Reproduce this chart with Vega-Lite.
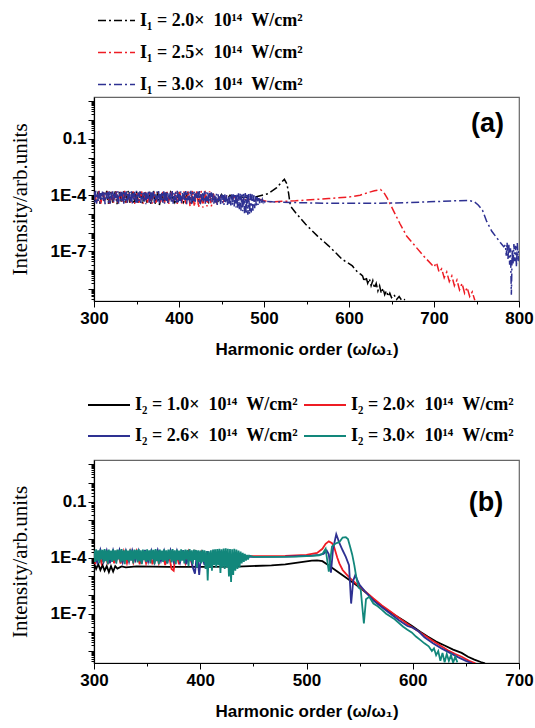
{
"$schema": "https://vega.github.io/schema/vega-lite/v6.json",
"background": "white",
"padding": {"left": 8, "top": 0, "right": 0, "bottom": 4},
"datasets": {
"a": [
{"s":"2.0","h":300,"v":1.4e-4},{"s":"2.0","h":302,"v":4e-5},{"s":"2.0","h":305,"v":1.6e-4},{"s":"2.0","h":307,"v":3.5e-5},{"s":"2.0","h":310,"v":1.5e-4},{"s":"2.0","h":312,"v":4.5e-5},{"s":"2.0","h":315,"v":1.7e-4},{"s":"2.0","h":317,"v":3.5e-5},{"s":"2.0","h":320,"v":1.5e-4},{"s":"2.0","h":322,"v":4e-5},{"s":"2.0","h":325,"v":1.6e-4},{"s":"2.0","h":327,"v":3.3e-5},{"s":"2.0","h":330,"v":1.5e-4},{"s":"2.0","h":332,"v":4.5e-5},{"s":"2.0","h":335,"v":1.6e-4},{"s":"2.0","h":337,"v":3.5e-5},{"s":"2.0","h":340,"v":1.7e-4},{"s":"2.0","h":342,"v":4e-5},{"s":"2.0","h":345,"v":1.5e-4},{"s":"2.0","h":347,"v":3.5e-5},{"s":"2.0","h":350,"v":1.6e-4},{"s":"2.0","h":352,"v":4e-5},{"s":"2.0","h":355,"v":1.5e-4},{"s":"2.0","h":357,"v":3.4e-5},{"s":"2.0","h":360,"v":1.6e-4},{"s":"2.0","h":362,"v":4e-5},{"s":"2.0","h":365,"v":1.5e-4},{"s":"2.0","h":367,"v":3.3e-5},{"s":"2.0","h":370,"v":1.7e-4},{"s":"2.0","h":372,"v":3.5e-5},{"s":"2.0","h":375,"v":1.5e-4},{"s":"2.0","h":377,"v":3e-5},{"s":"2.0","h":380,"v":1.5e-4},{"s":"2.0","h":382,"v":4e-5},{"s":"2.0","h":385,"v":1.4e-4},{"s":"2.0","h":387,"v":3.5e-5},{"s":"2.0","h":390,"v":1.4e-4},{"s":"2.0","h":395,"v":4e-5},{"s":"2.0","h":400,"v":1.3e-4},{"s":"2.0","h":405,"v":4e-5},{"s":"2.0","h":410,"v":1.3e-4},{"s":"2.0","h":415,"v":4e-5},{"s":"2.0","h":420,"v":1.2e-4},{"s":"2.0","h":425,"v":4e-5},{"s":"2.0","h":430,"v":1.2e-4},{"s":"2.0","h":435,"v":4e-5},{"s":"2.0","h":440,"v":1.1e-4},{"s":"2.0","h":445,"v":4e-5},{"s":"2.0","h":450,"v":1.1e-4},{"s":"2.0","h":455,"v":5e-5},{"s":"2.0","h":460,"v":1e-4},{"s":"2.0","h":465,"v":5e-5},{"s":"2.0","h":470,"v":8e-5},{"s":"2.0","h":480,"v":7.5e-5},{"s":"2.0","h":490,"v":8e-5},{"s":"2.0","h":505,"v":1.2e-4},{"s":"2.0","h":515,"v":2.5e-4},{"s":"2.0","h":520,"v":4.5e-4},{"s":"2.0","h":524,"v":7e-4},{"s":"2.0","h":527,"v":4e-4},{"s":"2.0","h":529,"v":1.2e-4},{"s":"2.0","h":531,"v":2.7e-5},{"s":"2.0","h":537,"v":1.2e-5},{"s":"2.0","h":549,"v":2.8e-6},{"s":"2.0","h":563,"v":6.6e-7},{"s":"2.0","h":576,"v":2e-7},{"s":"2.0","h":585,"v":8e-8},{"s":"2.0","h":592,"v":3.8e-8},{"s":"2.0","h":598,"v":2.6e-8},{"s":"2.0","h":604,"v":1.7e-8},{"s":"2.0","h":610,"v":8e-9},{"s":"2.0","h":614,"v":6e-9},{"s":"2.0","h":616,"v":5e-9},{"s":"2.0","h":618,"v":2.5e-9},{"s":"2.0","h":620,"v":4.5e-9},{"s":"2.0","h":622,"v":2e-9},{"s":"2.0","h":624,"v":3.5e-9},{"s":"2.0","h":626,"v":1.5e-9},{"s":"2.0","h":628,"v":2.8e-9},{"s":"2.0","h":630,"v":1.1e-9},{"s":"2.0","h":632,"v":2e-9},{"s":"2.0","h":634,"v":8e-10},{"s":"2.0","h":636,"v":1.5e-9},{"s":"2.0","h":638,"v":6e-10},{"s":"2.0","h":640,"v":1.1e-9},{"s":"2.0","h":642,"v":5e-10},{"s":"2.0","h":644,"v":8e-10},{"s":"2.0","h":646,"v":4e-10},{"s":"2.0","h":648,"v":6e-10},{"s":"2.0","h":650,"v":3.5e-10},{"s":"2.0","h":653,"v":5e-10},{"s":"2.0","h":656,"v":2.8e-10},{"s":"2.0","h":659,"v":4e-10},{"s":"2.0","h":662,"v":2.5e-10},{"s":"2.0","h":666,"v":2.8e-10},
{"s":"2.5","h":301,"v":1.5e-4},{"s":"2.5","h":303,"v":4e-5},{"s":"2.5","h":306,"v":1.7e-4},{"s":"2.5","h":308,"v":3.6e-5},{"s":"2.5","h":311,"v":1.5e-4},{"s":"2.5","h":313,"v":4.5e-5},{"s":"2.5","h":316,"v":1.6e-4},{"s":"2.5","h":318,"v":3.5e-5},{"s":"2.5","h":321,"v":1.5e-4},{"s":"2.5","h":323,"v":4e-5},{"s":"2.5","h":326,"v":1.6e-4},{"s":"2.5","h":328,"v":3.6e-5},{"s":"2.5","h":331,"v":1.5e-4},{"s":"2.5","h":333,"v":4.5e-5},{"s":"2.5","h":336,"v":1.7e-4},{"s":"2.5","h":338,"v":3.5e-5},{"s":"2.5","h":341,"v":1.5e-4},{"s":"2.5","h":343,"v":4e-5},{"s":"2.5","h":346,"v":1.6e-4},{"s":"2.5","h":348,"v":3.4e-5},{"s":"2.5","h":351,"v":1.5e-4},{"s":"2.5","h":353,"v":4e-5},{"s":"2.5","h":356,"v":1.6e-4},{"s":"2.5","h":358,"v":3.6e-5},{"s":"2.5","h":361,"v":1.5e-4},{"s":"2.5","h":363,"v":4e-5},{"s":"2.5","h":366,"v":1.6e-4},{"s":"2.5","h":368,"v":3.5e-5},{"s":"2.5","h":371,"v":1.5e-4},{"s":"2.5","h":373,"v":4e-5},{"s":"2.5","h":376,"v":1.5e-4},{"s":"2.5","h":378,"v":3.5e-5},{"s":"2.5","h":381,"v":1.5e-4},{"s":"2.5","h":383,"v":4e-5},{"s":"2.5","h":386,"v":1.5e-4},{"s":"2.5","h":388,"v":3.5e-5},{"s":"2.5","h":391,"v":1.5e-4},{"s":"2.5","h":393,"v":3.8e-5},{"s":"2.5","h":396,"v":1.6e-4},{"s":"2.5","h":398,"v":3.4e-5},{"s":"2.5","h":401,"v":1.5e-4},{"s":"2.5","h":403,"v":3.5e-5},{"s":"2.5","h":406,"v":1.6e-4},{"s":"2.5","h":408,"v":3e-5},{"s":"2.5","h":411,"v":1.7e-4},{"s":"2.5","h":413,"v":2.5e-5},{"s":"2.5","h":416,"v":1.8e-4},{"s":"2.5","h":418,"v":2.5e-5},{"s":"2.5","h":421,"v":1.8e-4},{"s":"2.5","h":423,"v":2.2e-5},{"s":"2.5","h":426,"v":1.7e-4},{"s":"2.5","h":428,"v":2.2e-5},{"s":"2.5","h":431,"v":1.7e-4},{"s":"2.5","h":433,"v":2.5e-5},{"s":"2.5","h":436,"v":1.6e-4},{"s":"2.5","h":438,"v":2.5e-5},{"s":"2.5","h":441,"v":1.2e-4},{"s":"2.5","h":444,"v":4e-5},{"s":"2.5","h":448,"v":1e-4},{"s":"2.5","h":452,"v":4.5e-5},{"s":"2.5","h":456,"v":9e-5},{"s":"2.5","h":460,"v":5e-5},{"s":"2.5","h":465,"v":8e-5},{"s":"2.5","h":470,"v":5e-5},{"s":"2.5","h":475,"v":7e-5},{"s":"2.5","h":480,"v":5e-5},{"s":"2.5","h":485,"v":6.5e-5},{"s":"2.5","h":490,"v":5e-5},{"s":"2.5","h":495,"v":6e-5},{"s":"2.5","h":500,"v":5e-5},{"s":"2.5","h":508,"v":4.4e-5},{"s":"2.5","h":537,"v":5e-5},{"s":"2.5","h":576,"v":6.6e-5},{"s":"2.5","h":600,"v":8e-5},{"s":"2.5","h":613,"v":1e-4},{"s":"2.5","h":623,"v":1.4e-4},{"s":"2.5","h":630,"v":1.7e-4},{"s":"2.5","h":637,"v":2e-4},{"s":"2.5","h":641,"v":1.4e-4},{"s":"2.5","h":645,"v":7e-5},{"s":"2.5","h":649,"v":3e-5},{"s":"2.5","h":653,"v":1.3e-5},{"s":"2.5","h":660,"v":3e-6},{"s":"2.5","h":668,"v":6.5e-7},{"s":"2.5","h":678,"v":1.9e-7},{"s":"2.5","h":689,"v":5e-8},{"s":"2.5","h":700,"v":1.5e-8},{"s":"2.5","h":703,"v":2.5e-8},{"s":"2.5","h":706,"v":8e-9},{"s":"2.5","h":709,"v":1.2e-8},{"s":"2.5","h":712,"v":4e-9},{"s":"2.5","h":715,"v":8e-9},{"s":"2.5","h":718,"v":2.5e-9},{"s":"2.5","h":721,"v":5e-9},{"s":"2.5","h":724,"v":1.5e-9},{"s":"2.5","h":727,"v":3e-9},{"s":"2.5","h":730,"v":9e-10},{"s":"2.5","h":733,"v":2e-9},{"s":"2.5","h":736,"v":6e-10},{"s":"2.5","h":739,"v":1.2e-9},{"s":"2.5","h":742,"v":4e-10},{"s":"2.5","h":745,"v":7e-10},{"s":"2.5","h":748,"v":2.5e-10},
{"s":"3.0","h":300,"v":1.5e-4},{"s":"3.0","h":301,"v":4e-5},{"s":"3.0","h":302,"v":1.7e-4},{"s":"3.0","h":303,"v":3.5e-5},{"s":"3.0","h":304,"v":1.4e-4},{"s":"3.0","h":305,"v":5e-5},{"s":"3.0","h":306,"v":1.6e-4},{"s":"3.0","h":307,"v":3.8e-5},{"s":"3.0","h":308,"v":1.3e-4},{"s":"3.0","h":309,"v":6e-5},{"s":"3.0","h":310,"v":1.55e-4},{"s":"3.0","h":311,"v":4.5e-5},{"s":"3.0","h":312,"v":1.65e-4},{"s":"3.0","h":313,"v":3.3e-5},{"s":"3.0","h":314,"v":1.35e-4},{"s":"3.0","h":315,"v":5.5e-5},
{"s":"3.0","h":316,"v":1.5e-4},{"s":"3.0","h":317,"v":4e-5},{"s":"3.0","h":318,"v":1.7e-4},{"s":"3.0","h":319,"v":3.5e-5},{"s":"3.0","h":320,"v":1.4e-4},{"s":"3.0","h":321,"v":5e-5},{"s":"3.0","h":322,"v":1.6e-4},{"s":"3.0","h":323,"v":3.8e-5},{"s":"3.0","h":324,"v":1.3e-4},{"s":"3.0","h":325,"v":6e-5},{"s":"3.0","h":326,"v":1.55e-4},{"s":"3.0","h":327,"v":4.5e-5},{"s":"3.0","h":328,"v":1.65e-4},{"s":"3.0","h":329,"v":3.3e-5},{"s":"3.0","h":330,"v":1.35e-4},{"s":"3.0","h":331,"v":5.5e-5},
{"s":"3.0","h":332,"v":1.5e-4},{"s":"3.0","h":333,"v":4e-5},{"s":"3.0","h":334,"v":1.7e-4},{"s":"3.0","h":335,"v":3.5e-5},{"s":"3.0","h":336,"v":1.4e-4},{"s":"3.0","h":337,"v":5e-5},{"s":"3.0","h":338,"v":1.6e-4},{"s":"3.0","h":339,"v":3.8e-5},{"s":"3.0","h":340,"v":1.3e-4},{"s":"3.0","h":341,"v":6e-5},{"s":"3.0","h":342,"v":1.55e-4},{"s":"3.0","h":343,"v":4.5e-5},{"s":"3.0","h":344,"v":1.65e-4},{"s":"3.0","h":345,"v":3.3e-5},{"s":"3.0","h":346,"v":1.35e-4},{"s":"3.0","h":347,"v":5.5e-5},
{"s":"3.0","h":348,"v":1.5e-4},{"s":"3.0","h":349,"v":4e-5},{"s":"3.0","h":350,"v":1.7e-4},{"s":"3.0","h":351,"v":3.5e-5},{"s":"3.0","h":352,"v":1.4e-4},{"s":"3.0","h":353,"v":5e-5},{"s":"3.0","h":354,"v":1.6e-4},{"s":"3.0","h":355,"v":3.8e-5},{"s":"3.0","h":356,"v":1.3e-4},{"s":"3.0","h":357,"v":6e-5},{"s":"3.0","h":358,"v":1.55e-4},{"s":"3.0","h":359,"v":4.5e-5},{"s":"3.0","h":360,"v":1.65e-4},{"s":"3.0","h":361,"v":3.3e-5},{"s":"3.0","h":362,"v":1.35e-4},{"s":"3.0","h":363,"v":5.5e-5},
{"s":"3.0","h":364,"v":1.5e-4},{"s":"3.0","h":365,"v":4e-5},{"s":"3.0","h":366,"v":1.7e-4},{"s":"3.0","h":367,"v":3.5e-5},{"s":"3.0","h":368,"v":1.4e-4},{"s":"3.0","h":369,"v":5e-5},{"s":"3.0","h":370,"v":1.6e-4},{"s":"3.0","h":371,"v":3.8e-5},{"s":"3.0","h":372,"v":1.3e-4},{"s":"3.0","h":373,"v":6e-5},{"s":"3.0","h":374,"v":1.55e-4},{"s":"3.0","h":375,"v":4.5e-5},{"s":"3.0","h":376,"v":1.65e-4},{"s":"3.0","h":377,"v":3.3e-5},{"s":"3.0","h":378,"v":1.35e-4},{"s":"3.0","h":379,"v":5.5e-5},
{"s":"3.0","h":380,"v":1.5e-4},{"s":"3.0","h":381,"v":4e-5},{"s":"3.0","h":382,"v":1.7e-4},{"s":"3.0","h":383,"v":3.5e-5},{"s":"3.0","h":384,"v":1.4e-4},{"s":"3.0","h":385,"v":5e-5},{"s":"3.0","h":386,"v":1.6e-4},{"s":"3.0","h":387,"v":3.8e-5},{"s":"3.0","h":388,"v":1.3e-4},{"s":"3.0","h":389,"v":6e-5},{"s":"3.0","h":390,"v":1.55e-4},{"s":"3.0","h":391,"v":4.5e-5},{"s":"3.0","h":392,"v":1.65e-4},{"s":"3.0","h":393,"v":3.3e-5},{"s":"3.0","h":394,"v":1.35e-4},{"s":"3.0","h":395,"v":5.5e-5},
{"s":"3.0","h":396,"v":1.5e-4},{"s":"3.0","h":397,"v":4e-5},{"s":"3.0","h":398,"v":1.7e-4},{"s":"3.0","h":399,"v":3.5e-5},{"s":"3.0","h":400,"v":1.4e-4},{"s":"3.0","h":401,"v":5e-5},{"s":"3.0","h":402,"v":1.6e-4},{"s":"3.0","h":403,"v":3.8e-5},{"s":"3.0","h":404,"v":1.3e-4},{"s":"3.0","h":405,"v":6e-5},{"s":"3.0","h":406,"v":1.55e-4},{"s":"3.0","h":407,"v":4.5e-5},{"s":"3.0","h":408,"v":1.65e-4},{"s":"3.0","h":409,"v":3.3e-5},{"s":"3.0","h":410,"v":1.35e-4},{"s":"3.0","h":411,"v":5.5e-5},
{"s":"3.0","h":412,"v":1.5e-4},{"s":"3.0","h":413,"v":4e-5},{"s":"3.0","h":414,"v":1.7e-4},{"s":"3.0","h":415,"v":3.5e-5},{"s":"3.0","h":416,"v":1.4e-4},{"s":"3.0","h":417,"v":5e-5},{"s":"3.0","h":418,"v":1.6e-4},{"s":"3.0","h":419,"v":3.8e-5},{"s":"3.0","h":420,"v":1.3e-4},{"s":"3.0","h":421,"v":6e-5},{"s":"3.0","h":422,"v":1.55e-4},{"s":"3.0","h":423,"v":4.5e-5},{"s":"3.0","h":424,"v":1.65e-4},{"s":"3.0","h":425,"v":3.3e-5},{"s":"3.0","h":426,"v":1.35e-4},{"s":"3.0","h":427,"v":5.5e-5},
{"s":"3.0","h":428,"v":1.5e-4},{"s":"3.0","h":429,"v":4e-5},{"s":"3.0","h":430,"v":1.6e-4},{"s":"3.0","h":431,"v":3.5e-5},{"s":"3.0","h":432,"v":1.4e-4},{"s":"3.0","h":433,"v":5e-5},{"s":"3.0","h":434,"v":1.5e-4},{"s":"3.0","h":435,"v":3.8e-5},{"s":"3.0","h":436,"v":1.3e-4},{"s":"3.0","h":437,"v":5e-5},{"s":"3.0","h":438,"v":1.4e-4},{"s":"3.0","h":439,"v":4e-5},
{"s":"3.0","h":440,"v":1.2e-4},{"s":"3.0","h":441,"v":3.5e-5},{"s":"3.0","h":442,"v":1.1e-4},{"s":"3.0","h":443,"v":4e-5},{"s":"3.0","h":444,"v":1.2e-4},{"s":"3.0","h":445,"v":3e-5},{"s":"3.0","h":446,"v":1.1e-4},{"s":"3.0","h":447,"v":4.5e-5},{"s":"3.0","h":448,"v":1e-4},{"s":"3.0","h":449,"v":3.2e-5},{"s":"3.0","h":450,"v":1.1e-4},{"s":"3.0","h":451,"v":3.8e-5},{"s":"3.0","h":452,"v":1e-4},{"s":"3.0","h":453,"v":3e-5},{"s":"3.0","h":454,"v":1.1e-4},{"s":"3.0","h":455,"v":4e-5},{"s":"3.0","h":456,"v":1e-4},{"s":"3.0","h":457,"v":3e-5},{"s":"3.0","h":458,"v":9e-5},{"s":"3.0","h":459,"v":3.5e-5},{"s":"3.0","h":460,"v":1e-4},{"s":"3.0","h":461,"v":2.8e-5},{"s":"3.0","h":462,"v":1.1e-4},{"s":"3.0","h":463,"v":3e-5},{"s":"3.0","h":464,"v":1.1e-4},{"s":"3.0","h":465,"v":2.5e-5},{"s":"3.0","h":466,"v":1.2e-4},{"s":"3.0","h":467,"v":2.2e-5},{"s":"3.0","h":468,"v":1.2e-4},{"s":"3.0","h":469,"v":2e-5},{"s":"3.0","h":470,"v":1.25e-4},{"s":"3.0","h":471,"v":1.8e-5},{"s":"3.0","h":472,"v":1.2e-4},{"s":"3.0","h":473,"v":1.5e-5},{"s":"3.0","h":474,"v":1.3e-4},{"s":"3.0","h":475,"v":1.4e-5},{"s":"3.0","h":476,"v":1.2e-4},{"s":"3.0","h":477,"v":1.1e-5},{"s":"3.0","h":478,"v":1.3e-4},{"s":"3.0","h":479,"v":1e-5},{"s":"3.0","h":480,"v":1.2e-4},{"s":"3.0","h":481,"v":9e-6},{"s":"3.0","h":482,"v":1.25e-4},{"s":"3.0","h":483,"v":1e-5},{"s":"3.0","h":484,"v":1.2e-4},{"s":"3.0","h":485,"v":1.2e-5},{"s":"3.0","h":486,"v":1.1e-4},{"s":"3.0","h":487,"v":1.5e-5},{"s":"3.0","h":488,"v":1e-4},{"s":"3.0","h":489,"v":2e-5},{"s":"3.0","h":490,"v":9e-5},{"s":"3.0","h":491,"v":2.5e-5},{"s":"3.0","h":492,"v":8e-5},{"s":"3.0","h":493,"v":3e-5},{"s":"3.0","h":494,"v":7e-5},{"s":"3.0","h":495,"v":3.5e-5},{"s":"3.0","h":496,"v":6.5e-5},{"s":"3.0","h":497,"v":4e-5},{"s":"3.0","h":498,"v":6e-5},{"s":"3.0","h":499,"v":4.2e-5},{"s":"3.0","h":500,"v":5.5e-5},{"s":"3.0","h":501,"v":4.3e-5},{"s":"3.0","h":502,"v":5e-5},{"s":"3.0","h":503,"v":4.4e-5},{"s":"3.0","h":504,"v":4.6e-5},
{"s":"3.0","h":510,"v":4.4e-5},{"s":"3.0","h":540,"v":4e-5},{"s":"3.0","h":576,"v":3.7e-5},{"s":"3.0","h":615,"v":3.7e-5},{"s":"3.0","h":655,"v":3.8e-5},{"s":"3.0","h":694,"v":4.4e-5},{"s":"3.0","h":725,"v":5e-5},{"s":"3.0","h":740,"v":5.2e-5},{"s":"3.0","h":747,"v":4.6e-5},{"s":"3.0","h":752,"v":3e-5},{"s":"3.0","h":757,"v":1.6e-5},{"s":"3.0","h":762,"v":4e-6},{"s":"3.0","h":768,"v":1.2e-6},{"s":"3.0","h":773,"v":6e-7},{"s":"3.0","h":778,"v":3e-7},{"s":"3.0","h":782,"v":1.8e-7},{"s":"3.0","h":784,"v":2.2e-7},{"s":"3.0","h":785,"v":6e-8},{"s":"3.0","h":786,"v":3e-7},{"s":"3.0","h":787,"v":4e-8},{"s":"3.0","h":788,"v":2.5e-7},{"s":"3.0","h":789,"v":2e-8},{"s":"3.0","h":790,"v":1.5e-7},{"s":"3.0","h":791,"v":5e-10},{"s":"3.0","h":792,"v":1.2e-7},{"s":"3.0","h":793,"v":2e-8},{"s":"3.0","h":794,"v":2.5e-7},{"s":"3.0","h":795,"v":3e-8},{"s":"3.0","h":796,"v":2e-7},{"s":"3.0","h":797,"v":1.5e-8},{"s":"3.0","h":798,"v":2.8e-7},{"s":"3.0","h":799,"v":3e-8},{"s":"3.0","h":800,"v":1.5e-7}
],
"b": [
{"s":"1.0","h":300,"v":5e-5},{"s":"1.0","h":302,"v":2.5e-5},{"s":"1.0","h":304,"v":4.5e-5},{"s":"1.0","h":306,"v":2.2e-5},{"s":"1.0","h":308,"v":4e-5},{"s":"1.0","h":310,"v":2e-5},{"s":"1.0","h":312,"v":3.5e-5},{"s":"1.0","h":314,"v":1.7e-5},{"s":"1.0","h":316,"v":3.5e-5},{"s":"1.0","h":318,"v":1.8e-5},{"s":"1.0","h":320,"v":3.5e-5},{"s":"1.0","h":322,"v":2.6e-5},{"s":"1.0","h":326,"v":3.4e-5},{"s":"1.0","h":330,"v":3e-5},{"s":"1.0","h":340,"v":3.4e-5},{"s":"1.0","h":370,"v":3.2e-5},{"s":"1.0","h":400,"v":3.2e-5},{"s":"1.0","h":435,"v":3.3e-5},{"s":"1.0","h":467,"v":3.9e-5},{"s":"1.0","h":480,"v":4.4e-5},{"s":"1.0","h":495,"v":5.8e-5},{"s":"1.0","h":505,"v":7e-5},{"s":"1.0","h":510,"v":7.2e-5},{"s":"1.0","h":515,"v":6.5e-5},{"s":"1.0","h":520,"v":4.2e-5},{"s":"1.0","h":528,"v":2e-5},{"s":"1.0","h":536,"v":9.5e-6},{"s":"1.0","h":544,"v":4.5e-6},{"s":"1.0","h":552,"v":2.1e-6},{"s":"1.0","h":560,"v":8.5e-7},{"s":"1.0","h":567,"v":3.6e-7},{"s":"1.0","h":575,"v":1.7e-7},{"s":"1.0","h":583,"v":8.5e-8},{"s":"1.0","h":591,"v":4.5e-8},{"s":"1.0","h":599,"v":2.3e-8},{"s":"1.0","h":607,"v":1.1e-8},{"s":"1.0","h":614,"v":6e-9},{"s":"1.0","h":622,"v":3.2e-9},{"s":"1.0","h":630,"v":2e-9},{"s":"1.0","h":638,"v":1.2e-9},{"s":"1.0","h":646,"v":8e-10},{"s":"1.0","h":652,"v":5e-10},{"s":"1.0","h":658,"v":3.5e-10},{"s":"1.0","h":664,"v":2.6e-10},{"s":"1.0","h":668,"v":2.2e-10},
{"s":"2.0","h":301,"v":4.5e-5},{"s":"2.0","h":304,"v":2.2e-4},{"s":"2.0","h":307,"v":5e-5},{"s":"2.0","h":310,"v":2.3e-4},{"s":"2.0","h":313,"v":4.5e-5},{"s":"2.0","h":316,"v":2.2e-4},{"s":"2.0","h":319,"v":5e-5},{"s":"2.0","h":322,"v":2.4e-4},{"s":"2.0","h":325,"v":4.8e-5},{"s":"2.0","h":328,"v":2.2e-4},{"s":"2.0","h":331,"v":5e-5},{"s":"2.0","h":334,"v":2.3e-4},{"s":"2.0","h":337,"v":5.5e-5},{"s":"2.0","h":340,"v":2.2e-4},{"s":"2.0","h":343,"v":4.5e-5},{"s":"2.0","h":346,"v":2.3e-4},{"s":"2.0","h":349,"v":5e-5},{"s":"2.0","h":352,"v":2.2e-4},{"s":"2.0","h":355,"v":4.5e-5},{"s":"2.0","h":358,"v":2.3e-4},{"s":"2.0","h":361,"v":5e-5},{"s":"2.0","h":364,"v":2.2e-4},{"s":"2.0","h":367,"v":4e-5},{"s":"2.0","h":370,"v":2e-4},{"s":"2.0","h":373,"v":2.5e-5},{"s":"2.0","h":375,"v":2e-5},{"s":"2.0","h":377,"v":2e-4},{"s":"2.0","h":380,"v":4.5e-5},{"s":"2.0","h":383,"v":2.2e-4},{"s":"2.0","h":386,"v":5e-5},{"s":"2.0","h":389,"v":2.1e-4},{"s":"2.0","h":392,"v":5e-5},{"s":"2.0","h":395,"v":2e-4},{"s":"2.0","h":398,"v":6e-5},{"s":"2.0","h":401,"v":2e-4},{"s":"2.0","h":404,"v":7e-5},{"s":"2.0","h":407,"v":1.8e-4},{"s":"2.0","h":410,"v":8e-5},{"s":"2.0","h":414,"v":1.6e-4},{"s":"2.0","h":418,"v":1e-4},{"s":"2.0","h":422,"v":1.3e-4},{"s":"2.0","h":430,"v":1.2e-4},{"s":"2.0","h":450,"v":1.2e-4},{"s":"2.0","h":480,"v":1.25e-4},{"s":"2.0","h":500,"v":1.4e-4},{"s":"2.0","h":510,"v":1.8e-4},{"s":"2.0","h":515,"v":3e-4},{"s":"2.0","h":518,"v":5.5e-4},{"s":"2.0","h":521,"v":7.5e-4},{"s":"2.0","h":524,"v":6e-4},{"s":"2.0","h":526,"v":3.7e-4},{"s":"2.0","h":529,"v":1e-4},{"s":"2.0","h":531,"v":4.8e-5},{"s":"2.0","h":534,"v":2.2e-5},{"s":"2.0","h":537,"v":1.4e-5},{"s":"2.0","h":541,"v":8e-6},{"s":"2.0","h":547,"v":4e-6},{"s":"2.0","h":555,"v":1.6e-6},{"s":"2.0","h":563,"v":6.5e-7},{"s":"2.0","h":571,"v":2.8e-7},{"s":"2.0","h":579,"v":1.3e-7},{"s":"2.0","h":587,"v":6e-8},{"s":"2.0","h":595,"v":2.8e-8},{"s":"2.0","h":603,"v":1.4e-8},{"s":"2.0","h":611,"v":7e-9},{"s":"2.0","h":619,"v":3.5e-9},{"s":"2.0","h":627,"v":1.8e-9},{"s":"2.0","h":633,"v":1.1e-9},{"s":"2.0","h":640,"v":7e-10},{"s":"2.0","h":646,"v":5e-10},{"s":"2.0","h":653,"v":3e-10},{"s":"2.0","h":659,"v":2.2e-10},
{"s":"2.6","h":300,"v":2.2e-4},{"s":"2.6","h":303,"v":5.5e-5},{"s":"2.6","h":306,"v":2.6e-4},{"s":"2.6","h":309,"v":6e-5},{"s":"2.6","h":312,"v":2.4e-4},{"s":"2.6","h":315,"v":5e-5},{"s":"2.6","h":318,"v":2.5e-4},{"s":"2.6","h":321,"v":6.5e-5},{"s":"2.6","h":324,"v":2.6e-4},{"s":"2.6","h":327,"v":5.5e-5},{"s":"2.6","h":330,"v":2.4e-4},{"s":"2.6","h":333,"v":6e-5},{"s":"2.6","h":336,"v":2.5e-4},{"s":"2.6","h":339,"v":7e-5},{"s":"2.6","h":342,"v":2.4e-4},{"s":"2.6","h":345,"v":5e-5},{"s":"2.6","h":348,"v":2.6e-4},{"s":"2.6","h":351,"v":6e-5},{"s":"2.6","h":354,"v":2.4e-4},{"s":"2.6","h":357,"v":5.5e-5},{"s":"2.6","h":360,"v":2.5e-4},{"s":"2.6","h":363,"v":6.5e-5},{"s":"2.6","h":366,"v":2.4e-4},{"s":"2.6","h":369,"v":5e-5},{"s":"2.6","h":372,"v":2.5e-4},{"s":"2.6","h":375,"v":6e-5},{"s":"2.6","h":378,"v":2.4e-4},{"s":"2.6","h":381,"v":5.5e-5},{"s":"2.6","h":384,"v":2.5e-4},{"s":"2.6","h":387,"v":4.5e-5},{"s":"2.6","h":390,"v":2.3e-4},{"s":"2.6","h":393,"v":3e-5},{"s":"2.6","h":395,"v":1.4e-5},{"s":"2.6","h":397,"v":2.2e-4},{"s":"2.6","h":399,"v":1.2e-5},{"s":"2.6","h":401,"v":2e-4},{"s":"2.6","h":404,"v":4e-5},{"s":"2.6","h":407,"v":2.2e-4},{"s":"2.6","h":410,"v":5e-5},{"s":"2.6","h":413,"v":2e-4},{"s":"2.6","h":416,"v":6e-5},{"s":"2.6","h":419,"v":1.8e-4},{"s":"2.6","h":422,"v":8e-5},{"s":"2.6","h":426,"v":1.3e-4},{"s":"2.6","h":430,"v":1.1e-4},{"s":"2.6","h":450,"v":1.1e-4},{"s":"2.6","h":480,"v":1.15e-4},{"s":"2.6","h":505,"v":1.3e-4},{"s":"2.6","h":512,"v":1.4e-4},{"s":"2.6","h":516,"v":1.6e-4},{"s":"2.6","h":519,"v":2.4e-4},{"s":"2.6","h":521,"v":1.5e-4},{"s":"2.6","h":523,"v":1.6e-5},{"s":"2.6","h":525,"v":3e-4},{"s":"2.6","h":528,"v":1.8e-3},{"s":"2.6","h":531,"v":6e-4},{"s":"2.6","h":534,"v":2.5e-4},{"s":"2.6","h":537,"v":1.1e-4},{"s":"2.6","h":540,"v":4e-5},{"s":"2.6","h":542,"v":3.5e-7},{"s":"2.6","h":544,"v":6e-6},{"s":"2.6","h":546,"v":1.2e-5},{"s":"2.6","h":548,"v":6e-6},{"s":"2.6","h":550,"v":3.5e-6},{"s":"2.6","h":555,"v":1.6e-6},{"s":"2.6","h":563,"v":5e-7},{"s":"2.6","h":571,"v":2.2e-7},{"s":"2.6","h":579,"v":1e-7},{"s":"2.6","h":587,"v":4.5e-8},{"s":"2.6","h":595,"v":2.2e-8},{"s":"2.6","h":600,"v":1.8e-8},{"s":"2.6","h":605,"v":1.2e-8},{"s":"2.6","h":611,"v":5.5e-9},{"s":"2.6","h":619,"v":2.6e-9},{"s":"2.6","h":627,"v":1.4e-9},{"s":"2.6","h":635,"v":8e-10},{"s":"2.6","h":643,"v":4.6e-10},{"s":"2.6","h":650,"v":3e-10},{"s":"2.6","h":656,"v":2.2e-10},
{"s":"3.0","h":300,"v":2.4e-4},{"s":"3.0","h":301,"v":6e-5},{"s":"3.0","h":302,"v":2.8e-4},{"s":"3.0","h":303,"v":7e-5},{"s":"3.0","h":304,"v":2.5e-4},{"s":"3.0","h":305,"v":5e-5},{"s":"3.0","h":306,"v":2.7e-4},{"s":"3.0","h":307,"v":8e-5},{"s":"3.0","h":308,"v":2.6e-4},{"s":"3.0","h":309,"v":5.5e-5},{"s":"3.0","h":310,"v":2.9e-4},{"s":"3.0","h":311,"v":6.5e-5},{"s":"3.0","h":312,"v":2.45e-4},{"s":"3.0","h":313,"v":4.5e-5},{"s":"3.0","h":314,"v":2.75e-4},{"s":"3.0","h":315,"v":7.5e-5},
{"s":"3.0","h":316,"v":2.4e-4},{"s":"3.0","h":317,"v":6e-5},{"s":"3.0","h":318,"v":2.8e-4},{"s":"3.0","h":319,"v":7e-5},{"s":"3.0","h":320,"v":2.5e-4},{"s":"3.0","h":321,"v":5e-5},{"s":"3.0","h":322,"v":2.7e-4},{"s":"3.0","h":323,"v":8e-5},{"s":"3.0","h":324,"v":2.6e-4},{"s":"3.0","h":325,"v":5.5e-5},{"s":"3.0","h":326,"v":2.9e-4},{"s":"3.0","h":327,"v":6.5e-5},{"s":"3.0","h":328,"v":2.45e-4},{"s":"3.0","h":329,"v":4.5e-5},{"s":"3.0","h":330,"v":2.75e-4},{"s":"3.0","h":331,"v":7.5e-5},
{"s":"3.0","h":332,"v":2.4e-4},{"s":"3.0","h":333,"v":6e-5},{"s":"3.0","h":334,"v":2.8e-4},{"s":"3.0","h":335,"v":7e-5},{"s":"3.0","h":336,"v":2.5e-4},{"s":"3.0","h":337,"v":5e-5},{"s":"3.0","h":338,"v":2.7e-4},{"s":"3.0","h":339,"v":8e-5},{"s":"3.0","h":340,"v":2.6e-4},{"s":"3.0","h":341,"v":5.5e-5},{"s":"3.0","h":342,"v":2.9e-4},{"s":"3.0","h":343,"v":6.5e-5},{"s":"3.0","h":344,"v":2.45e-4},{"s":"3.0","h":345,"v":4.5e-5},{"s":"3.0","h":346,"v":2.75e-4},{"s":"3.0","h":347,"v":7.5e-5},
{"s":"3.0","h":348,"v":2.4e-4},{"s":"3.0","h":349,"v":6e-5},{"s":"3.0","h":350,"v":2.8e-4},{"s":"3.0","h":351,"v":7e-5},{"s":"3.0","h":352,"v":2.5e-4},{"s":"3.0","h":353,"v":5e-5},{"s":"3.0","h":354,"v":2.7e-4},{"s":"3.0","h":355,"v":8e-5},{"s":"3.0","h":356,"v":2.6e-4},{"s":"3.0","h":357,"v":4.5e-5},{"s":"3.0","h":358,"v":2.9e-4},{"s":"3.0","h":359,"v":6.5e-5},{"s":"3.0","h":360,"v":2.45e-4},{"s":"3.0","h":361,"v":4.5e-5},{"s":"3.0","h":362,"v":2.75e-4},{"s":"3.0","h":363,"v":7.5e-5},
{"s":"3.0","h":364,"v":2.4e-4},{"s":"3.0","h":365,"v":6e-5},{"s":"3.0","h":366,"v":2.8e-4},{"s":"3.0","h":367,"v":7e-5},{"s":"3.0","h":368,"v":2.5e-4},{"s":"3.0","h":369,"v":5e-5},{"s":"3.0","h":370,"v":2.7e-4},{"s":"3.0","h":371,"v":8e-5},{"s":"3.0","h":372,"v":2.6e-4},{"s":"3.0","h":373,"v":5.5e-5},{"s":"3.0","h":374,"v":2.9e-4},{"s":"3.0","h":375,"v":6.5e-5},{"s":"3.0","h":376,"v":2.45e-4},{"s":"3.0","h":377,"v":4.5e-5},{"s":"3.0","h":378,"v":2.75e-4},{"s":"3.0","h":379,"v":7.5e-5},
{"s":"3.0","h":380,"v":2.4e-4},{"s":"3.0","h":381,"v":6e-5},{"s":"3.0","h":382,"v":2.8e-4},{"s":"3.0","h":383,"v":7e-5},{"s":"3.0","h":384,"v":2.5e-4},{"s":"3.0","h":385,"v":5e-5},{"s":"3.0","h":386,"v":2.7e-4},{"s":"3.0","h":387,"v":8e-5},{"s":"3.0","h":388,"v":2.6e-4},{"s":"3.0","h":389,"v":3.5e-5},{"s":"3.0","h":390,"v":2.9e-4},{"s":"3.0","h":391,"v":6.5e-5},{"s":"3.0","h":392,"v":2.45e-4},{"s":"3.0","h":393,"v":4.5e-5},{"s":"3.0","h":394,"v":2.75e-4},{"s":"3.0","h":395,"v":7.5e-5},
{"s":"3.0","h":396,"v":2.6e-4},{"s":"3.0","h":397,"v":3e-5},{"s":"3.0","h":398,"v":2.5e-4},{"s":"3.0","h":399,"v":6e-5},{"s":"3.0","h":400,"v":2.4e-4},{"s":"3.0","h":401,"v":5e-5},{"s":"3.0","h":402,"v":2.6e-4},{"s":"3.0","h":403,"v":6e-5},{"s":"3.0","h":404,"v":2.5e-4},{"s":"3.0","h":405,"v":2.5e-5},{"s":"3.0","h":406,"v":2.3e-4},{"s":"3.0","h":407,"v":6e-6},{"s":"3.0","h":408,"v":2.2e-4},{"s":"3.0","h":409,"v":3e-5},{"s":"3.0","h":410,"v":2.5e-4},{"s":"3.0","h":411,"v":2e-5},{"s":"3.0","h":412,"v":2.7e-4},{"s":"3.0","h":413,"v":4e-5},{"s":"3.0","h":414,"v":2.8e-4},{"s":"3.0","h":415,"v":3e-5},{"s":"3.0","h":416,"v":2.9e-4},{"s":"3.0","h":417,"v":4e-5},{"s":"3.0","h":418,"v":3e-4},{"s":"3.0","h":419,"v":1.5e-5},{"s":"3.0","h":420,"v":2.8e-4},{"s":"3.0","h":421,"v":3e-5},{"s":"3.0","h":422,"v":3.1e-4},{"s":"3.0","h":423,"v":2.5e-5},{"s":"3.0","h":424,"v":3.2e-4},{"s":"3.0","h":425,"v":3e-5},{"s":"3.0","h":426,"v":3e-4},{"s":"3.0","h":427,"v":1e-5},{"s":"3.0","h":428,"v":2.9e-4},{"s":"3.0","h":429,"v":5e-6},{"s":"3.0","h":430,"v":2.8e-4},{"s":"3.0","h":431,"v":1.2e-5},{"s":"3.0","h":432,"v":3e-4},{"s":"3.0","h":433,"v":2e-5},{"s":"3.0","h":434,"v":2.7e-4},{"s":"3.0","h":435,"v":2.5e-5},{"s":"3.0","h":436,"v":2.4e-4},{"s":"3.0","h":437,"v":3e-5},{"s":"3.0","h":438,"v":2.1e-4},{"s":"3.0","h":439,"v":5e-5},{"s":"3.0","h":440,"v":1.8e-4},{"s":"3.0","h":441,"v":6e-5},{"s":"3.0","h":442,"v":1.6e-4},{"s":"3.0","h":443,"v":7e-5},{"s":"3.0","h":444,"v":1.4e-4},{"s":"3.0","h":445,"v":8e-5},{"s":"3.0","h":446,"v":1.3e-4},
{"s":"3.0","h":450,"v":1.1e-4},{"s":"3.0","h":470,"v":1.1e-4},{"s":"3.0","h":490,"v":1.15e-4},{"s":"3.0","h":505,"v":1.25e-4},{"s":"3.0","h":512,"v":1.35e-4},{"s":"3.0","h":515,"v":1.6e-4},{"s":"3.0","h":518,"v":3e-4},{"s":"3.0","h":521,"v":1.8e-5},{"s":"3.0","h":524,"v":4e-4},{"s":"3.0","h":527,"v":5.6e-4},{"s":"3.0","h":531,"v":7e-4},{"s":"3.0","h":534,"v":1.2e-3},{"s":"3.0","h":537,"v":1.25e-3},{"s":"3.0","h":539,"v":1e-3},{"s":"3.0","h":541,"v":4e-4},{"s":"3.0","h":543,"v":1.5e-4},{"s":"3.0","h":545,"v":4e-5},{"s":"3.0","h":547,"v":8e-6},{"s":"3.0","h":549,"v":2.5e-6},{"s":"3.0","h":551,"v":2e-6},{"s":"3.0","h":554,"v":3e-8},{"s":"3.0","h":556,"v":6e-7},{"s":"3.0","h":559,"v":8e-7},{"s":"3.0","h":563,"v":3.5e-7},{"s":"3.0","h":567,"v":2.5e-7},{"s":"3.0","h":571,"v":1.6e-7},{"s":"3.0","h":575,"v":1e-7},{"s":"3.0","h":579,"v":7e-8},{"s":"3.0","h":583,"v":5e-8},{"s":"3.0","h":587,"v":3.2e-8},{"s":"3.0","h":591,"v":2e-8},{"s":"3.0","h":595,"v":1.4e-8},{"s":"3.0","h":599,"v":1e-8},{"s":"3.0","h":603,"v":6e-9},{"s":"3.0","h":607,"v":4e-9},{"s":"3.0","h":611,"v":2.6e-9},{"s":"3.0","h":615,"v":1.8e-9},{"s":"3.0","h":618,"v":1e-9},{"s":"3.0","h":620,"v":1.4e-9},{"s":"3.0","h":622,"v":6e-10},{"s":"3.0","h":624,"v":1e-9},{"s":"3.0","h":626,"v":3e-10},{"s":"3.0","h":628,"v":8e-10},{"s":"3.0","h":630,"v":2.5e-10},{"s":"3.0","h":632,"v":7e-10},{"s":"3.0","h":634,"v":3e-10},{"s":"3.0","h":636,"v":6e-10},{"s":"3.0","h":638,"v":2.4e-10},{"s":"3.0","h":640,"v":5e-10},{"s":"3.0","h":642,"v":2.5e-10}
]
},
"config": {
  "view": {"stroke": "#666666", "strokeWidth": 1.2},
  "axis": {"grid": false, "domainColor": "#000000", "domainWidth": 1.2, "tickColor": "#000000", "tickWidth": 1, "labelFont": "Liberation Sans", "labelFontWeight": "bold", "labelFontSize": 17, "labelColor": "#000000", "labelOverlap": false, "labelFlush": false, "titleColor": "#000000"},
  "legend": {"labelFont": "Liberation Serif", "labelFontWeight": "bold", "labelFontSize": 18, "labelColor": "#000000", "labelLimit": 0, "symbolType": "stroke", "labelOffset": 4}
},
"spacing": 24,
"resolve": {"scale": {"x": "independent", "y": "independent", "color": "independent"}, "legend": {"color": "independent"}},
"vconcat": [
{
  "width": 425, "height": 204,
  "layer": [
    {
      "data": {"name": "a"},
      "mark": {"type": "line", "strokeWidth": 1.5, "strokeDash": [8, 3, 2, 3], "clip": true},
      "encoding": {
        "x": {"field": "h", "type": "quantitative", "scale": {"domain": [300, 800], "nice": false},
              "axis": {"values": [300,350,400,450,500,550,600,650,700,750,800], "labelExpr": "datum.value % 100 == 0 ? datum.label : ''",
                       "tickSize": {"condition": {"test": "datum.value % 100 == 0", "value": 6}, "value": 3}, "labelPadding": 3,
                       "title": "Harmonic order (ω/ω₁)", "titleFont": "Liberation Sans", "titleFontWeight": "bold", "titleFontSize": 17, "titlePadding": 15}},
        "y": {"field": "v", "type": "quantitative", "scale": {"type": "log", "domain": [2.3e-10, 17], "nice": false},
              "axis": {"values": [3e-10,4e-10,5e-10,6e-10,7e-10,8e-10,9e-10,1e-9,2e-9,3e-9,4e-9,5e-9,6e-9,7e-9,8e-9,9e-9,1e-8,2e-8,3e-8,4e-8,5e-8,6e-8,7e-8,8e-8,9e-8,1e-7,2e-7,3e-7,4e-7,5e-7,6e-7,7e-7,8e-7,9e-7,1e-6,2e-6,3e-6,4e-6,5e-6,6e-6,7e-6,8e-6,9e-6,1e-5,2e-5,3e-5,4e-5,5e-5,6e-5,7e-5,8e-5,9e-5,0.0001,0.0002,0.0003,0.0004,0.0005,0.0006,0.0007,0.0008,0.0009,0.001,0.002,0.003,0.004,0.005,0.006,0.007,0.008,0.009,0.01,0.02,0.03,0.04,0.05,0.06,0.07,0.08,0.09,0.1,0.2,0.3,0.4,0.5,0.6,0.7,0.8,0.9,1,2,3,4,5,6,7,8,9,10],
                       "labelExpr": "datum.value == 0.1 ? '0.1' : (datum.value == 0.0001 ? '1E-4' : (datum.value == 1e-7 ? '1E-7' : ''))",
                       "tickSize": {"condition": {"test": "abs(log(datum.value)/LN10 - round(log(datum.value)/LN10)) < 0.01", "value": 6}, "value": 3},
                       "labelPadding": 2,
                       "title": "Intensity/arb.units", "titleFont": "Liberation Serif", "titleFontWeight": "normal", "titleFontSize": 21, "titlePadding": 20}},
        "color": {"field": "s", "type": "nominal", "scale": {"domain": ["2.0", "2.5", "3.0"], "range": ["#000000", "#ee1c24", "#2e3192"]},
                  "legend": {"orient": "none", "legendX": 3, "legendY": -96, "title": null, "symbolSize": 1369, "symbolDash": [8, 3, 2, 3], "symbolStrokeWidth": 1.5, "rowPadding": 3,
                             "labelExpr": "'I₁ = ' + datum.label + '× \u00a010¹⁴ \u00a0W/cm²'"}}
      }
    },
    {
      "data": {"values": [{"t": "(a)"}]},
      "mark": {"type": "text", "font": "Liberation Sans", "fontWeight": "bold", "fontSize": 27, "baseline": "middle", "align": "center", "color": "#000000"},
      "encoding": {"x": {"datum": 763}, "y": {"datum": 0.6}, "text": {"field": "t"}}
    }
  ]
},
{
  "width": 425, "height": 203,
  "layer": [
    {
      "data": {"name": "b"},
      "mark": {"type": "line", "strokeWidth": 1.8, "clip": true},
      "encoding": {
        "x": {"field": "h", "type": "quantitative", "scale": {"domain": [300, 700], "nice": false},
              "axis": {"values": [300,350,400,450,500,550,600,650,700], "labelExpr": "datum.value % 100 == 0 ? datum.label : ''",
                       "tickSize": {"condition": {"test": "datum.value % 100 == 0", "value": 6}, "value": 3}, "labelPadding": 3,
                       "title": "Harmonic order (ω/ω₁)", "titleFont": "Liberation Sans", "titleFontWeight": "bold", "titleFontSize": 17, "titlePadding": 15}},
        "y": {"field": "v", "type": "quantitative", "scale": {"type": "log", "domain": [2.3e-10, 17], "nice": false},
              "axis": {"values": [3e-10,4e-10,5e-10,6e-10,7e-10,8e-10,9e-10,1e-9,2e-9,3e-9,4e-9,5e-9,6e-9,7e-9,8e-9,9e-9,1e-8,2e-8,3e-8,4e-8,5e-8,6e-8,7e-8,8e-8,9e-8,1e-7,2e-7,3e-7,4e-7,5e-7,6e-7,7e-7,8e-7,9e-7,1e-6,2e-6,3e-6,4e-6,5e-6,6e-6,7e-6,8e-6,9e-6,1e-5,2e-5,3e-5,4e-5,5e-5,6e-5,7e-5,8e-5,9e-5,0.0001,0.0002,0.0003,0.0004,0.0005,0.0006,0.0007,0.0008,0.0009,0.001,0.002,0.003,0.004,0.005,0.006,0.007,0.008,0.009,0.01,0.02,0.03,0.04,0.05,0.06,0.07,0.08,0.09,0.1,0.2,0.3,0.4,0.5,0.6,0.7,0.8,0.9,1,2,3,4,5,6,7,8,9,10],
                       "labelExpr": "datum.value == 0.1 ? '0.1' : (datum.value == 0.0001 ? '1E-4' : (datum.value == 1e-7 ? '1E-7' : ''))",
                       "tickSize": {"condition": {"test": "abs(log(datum.value)/LN10 - round(log(datum.value)/LN10)) < 0.01", "value": 6}, "value": 3},
                       "labelPadding": 2,
                       "title": "Intensity/arb.units", "titleFont": "Liberation Serif", "titleFontWeight": "normal", "titleFontSize": 21, "titlePadding": 20}},
        "color": {"field": "s", "type": "nominal", "scale": {"domain": ["1.0", "2.0", "2.6", "3.0"], "range": ["#000000", "#ee1c24", "#2e3192", "#12877b"]},
                  "legend": {"orient": "none", "direction": "horizontal", "legendX": -7, "legendY": -77, "title": null, "columns": 2, "columnPadding": 2, "symbolSize": 1764, "symbolStrokeWidth": 2, "rowPadding": -10,
                             "labelExpr": "'I₂ = ' + datum.label + '× \u00a010¹⁴ \u00a0W/cm²'"}}
      }
    },
    {
      "data": {"values": [{"t": "(b)"}]},
      "mark": {"type": "text", "font": "Liberation Sans", "fontWeight": "bold", "fontSize": 27, "baseline": "middle", "align": "center", "color": "#000000"},
      "encoding": {"x": {"datum": 669}, "y": {"datum": 0.09}, "text": {"field": "t"}}
    }
  ]
}
]
}
